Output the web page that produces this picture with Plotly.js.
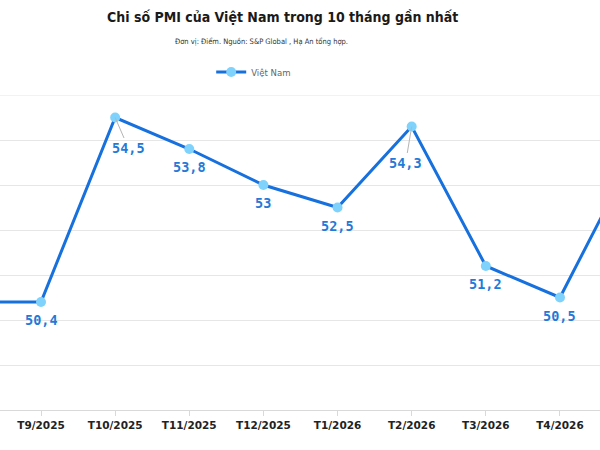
<!DOCTYPE html>
<html>
<head>
<meta charset="utf-8">
<script src="https://cdn.plot.ly/plotly-3.0.1.min.js"></script>
<style>
  html, body { margin: 0; padding: 0; background: #fff; }
  #chart { width: 600px; height: 450px; }
</style>
</head>
<body>
<div id="chart"></div>
<script>
// ---- Data ----
const months = ["T8/2025", "T9/2025", "T10/2025", "T11/2025", "T12/2025", "T1/2026", "T2/2026", "T3/2026", "T4/2026", "T5/2026"];
const pmiVietNam = [50.4, 50.4, 54.5, 53.8, 53.0, 52.5, 54.3, 51.2, 50.5, 53.7];
const seriesName = "Việt Nam";
const titleText = "Chi số PMI của Việt Nam trong 10 tháng gần nhất";
const subtitleText = "Đơn vị: Điểm. Nguồn: S&P Global , Hạ An tổng hợp.";
const yTop = 55;

// label offsets (pixels) – special leader-line labels
const labelOffsets = {
  "T10/2025": {ax: 13, ay: 30, arrow: true},
  "T2/2026": {ax: -6, ay: 36, arrow: true}
};

const fmt = v => String(v).replace('.', ',');
const condensed = 'DejaVu Sans Condensed, DejaVu Sans';

const annotations = months.map((m, i) => {
  const o = labelOffsets[m];
  const base = {
    x: m, y: pmiVietNam[i], xref: 'x', yref: 'y',
    text: fmt(pmiVietNam[i]),
    font: {family: 'DejaVu Sans Mono', size: 13.5, color: '#1f7ad8', weight: 'bold'},
  };
  if (o) {
    return Object.assign(base, {showarrow: true, ax: o.ax, ay: o.ay, arrowhead: 0, arrowwidth: 1, arrowcolor: '#b5b5b5', standoff: 0});
  }
  return Object.assign(base, {showarrow: false, yshift: -18});
});

annotations.push({
  xref: 'paper', yref: 'paper', x: 0.47, y: 1.0 + (95 - 17) / 315, xanchor: 'center', yanchor: 'middle',
  text: '<b>' + titleText + '</b>', showarrow: false,
  font: {family: condensed, size: 14, color: '#1a1a1a', stretch: 'condensed'}
});
annotations.push({
  xref: 'paper', yref: 'paper', x: 0.435, y: 1.0 + (95 - 42) / 315, xanchor: 'center', yanchor: 'middle',
  text: subtitleText, showarrow: false,
  font: {family: condensed, size: 7.5, color: '#333', stretch: 'condensed'}
});

const trace = {
  x: months, y: pmiVietNam, name: seriesName, type: 'scatter', mode: 'lines+markers',
  line: {color: '#1670dd', width: 3},
  marker: {color: '#7fd2fb', size: 10, line: {width: 0}},
  cliponaxis: true
};

const layout = {
  width: 600, height: 450,
  margin: {l: 0, r: 0, t: 95, b: 40},
  paper_bgcolor: '#fff', plot_bgcolor: '#fff',
  showlegend: true,
  legend: {
    orientation: 'h', x: 0.352, xanchor: 'left', y: 1.0 + (95 - 72) / 315, yanchor: 'middle',
    font: {family: condensed, size: 9.5, color: '#666', stretch: 'condensed'},
    itemwidth: 30, bgcolor: 'rgba(0,0,0,0)'
  },
  xaxis: {
    type: 'category', range: [0.447, 8.54],
    showgrid: false, showline: true, linecolor: '#d9d9d9', linewidth: 1,
    ticks: 'outside', ticklen: 5, tickcolor: '#d9d9d9',
    tickfont: {family: 'DejaVu Sans', size: 10.5, color: '#222', weight: 'bold'},
    fixedrange: true
  },
  yaxis: {
    range: [48, yTop], dtick: 1, showticklabels: false,
    showgrid: true, gridcolor: '#e6e6e6', gridwidth: 1, zeroline: false,
    fixedrange: true
  },
  shapes: [{
    type: 'line', layer: 'below', xref: 'paper', x0: 0, x1: 1, yref: 'y', y0: yTop, y1: yTop,
    line: {color: '#e6e6e6', width: 1}
  }],
  annotations: annotations
};

Plotly.newPlot('chart', [trace], layout, {displayModeBar: false, staticPlot: true});
</script>
</body>
</html>
